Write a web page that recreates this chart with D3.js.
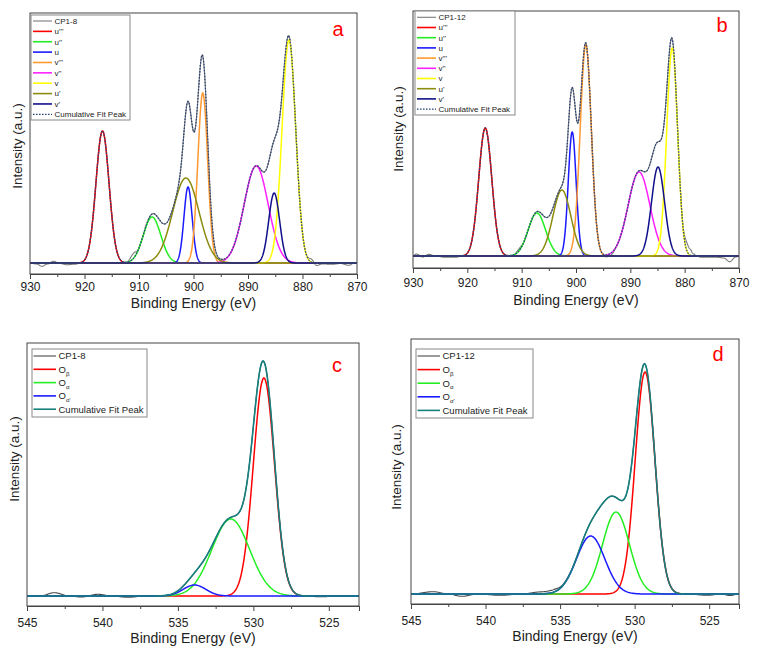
<!DOCTYPE html>
<html><head><meta charset="utf-8">
<script src="https://cdn.jsdelivr.net/npm/d3@7"></script>
<style>
body{margin:0;background:#fff}
text{font-family:Arial,"Liberation Sans",sans-serif}
</style>
</head><body>
<svg id="chart" width="757" height="651"></svg>
<script>
// ================= DATA =================
const ceTicks = [930, 920, 910, 900, 890, 880, 870];
const ceMinorTicks = [925, 915, 905, 895, 885, 875];
const oTicks = [545, 540, 535, 530, 525];
const oMinorTicks = [542.5, 537.5, 532.5, 527.5];

const ceNames = ["u'''", "u''", "u", "v'''", "v''", "v", "u'", "v'"];
const oNames = ["β", "α", "α'"];   // subscripts of O

// Panel a : CP1-8, Ce 3d (peak centre eV, height a.u., sigma eV)
const aCenter = [916.7, 907.6, 901.0, 898.3, 888.5, 882.5, 901.4, 885.2];
const aHeight = [132, 46, 76, 170, 97, 223, 85, 70];
const aSigma  = [1.2, 1.6, 0.75, 0.9, 2.2, 1.25, 2.4, 1.0];
const aResidE = [930, 928.8, 927.8, 926.8, 925.7, 924.5, 923.2, 921.8, 920.5, 912.3, 911.0, 910.0, 879.5, 878.4, 877.4, 876.4, 874.5, 873.0, 871.5, 870.5, 870];
const aResidV = [0, -1, -3.3, -1, 1.7, -0.5, -1.7, -1.2, 0, 0, 5, 0, 0, 3, -2.5, -1, -1.2, -0.5, -2.3, 0, 0];

// Panel b : CP1-12, Ce 3d
const bCenter = [916.7, 907.2, 900.7, 898.2, 888.4, 882.3, 902.6, 884.9];
const bHeight = [128, 43, 124, 211, 84, 208, 66, 89];
const bSigma  = [1.2, 1.6, 0.72, 1.02, 2.0, 1.0, 1.65, 1.2];
const bResidE = [930, 929.4, 928.2, 927.1, 925.9, 924.0, 922.3, 920.8, 913.5, 911.9, 910.4, 909.5, 895.2, 894.4, 893.4, 892.5, 880.6, 879.6, 879.0, 878.4, 877.8, 876.9, 874.0, 872.8, 871.7, 870.6, 870];
const bResidV = [0, 2, -1, 1.7, 0, -1.3, -1.3, 0, 0, -1, 2, 0, 0, -2, -2, 0, 0, 8, 6, 2, 0, -1.3, -1.3, -2, -5.7, -1, 0];

// Panel c : CP1-8, O 1s
const cCenter = [529.3, 531.5, 533.9];
const cHeight = [218, 77, 11];
const cSigma  = [0.7, 1.25, 0.75];
const cResidE = [545, 544, 543.2, 542.2, 541.4, 540.3, 539.4, 538.3, 537.2, 527, 525.5, 524.2, 523];
const cResidV = [0, 0.5, 3.3, 0, -1, 1.7, 0, -1.3, 0, 0, -0.7, 0, 0];

// Panel d : CP1-12, O 1s
const dCenter = [529.3, 531.25, 532.95];
const dHeight = [222, 82, 58];
const dSigma  = [0.66, 0.9, 0.95];
const dResidE = [545, 543.5, 542.5, 541.6, 540.5, 539.0, 537.6, 536.3, 535.4, 534.8, 534.0, 526.5, 525.1, 524.2, 523.6, 523];
const dResidV = [0, 2.3, 0, -2.3, 0, -1.3, 0, 2, 2.5, 1, 0, 0, -1.3, 0, -1.5, 0];

// ================= STYLE / LAYOUT =================
const ceColors = ["#ff0000", "#22ee22", "#1a1aff", "#ff9a30", "#ff20ff", "#ffff00", "#8c8c10", "#10108a"];
const oColors = ["#ff0000", "#22ee22", "#1a1aff"];

const panels = [
  {sample: "CP1-8", letter: "a", names: ceNames, colors: ceColors, kind: "ce",
   center: aCenter, height: aHeight, sigma: aSigma, rE: aResidE, rV: aResidV,
   xDom: [930, 870], yDom: [-11, 250], left: 30, right: 357, top: 13, bottom: 274,
   ticks: ceTicks, minor: ceMinorTicks, pad: 3,
   letterX: 338, letterY: 36, xtitleY: 308, ytitleX: 22, ytitleY: 146,
   leg: {x: 31, y: 15, w: 99, h: 105, row0: 21, step: 10.37, lx0: 33, lx1: 52, tx: 54.5, fs: 8}},
  {sample: "CP1-12", letter: "b", names: ceNames, colors: ceColors, kind: "ce",
   center: bCenter, height: bHeight, sigma: bSigma, rE: bResidE, rV: bResidV,
   xDom: [930, 870], yDom: [-12, 245], left: 413, right: 739, top: 11, bottom: 268,
   ticks: ceTicks, minor: ceMinorTicks, pad: 5,
   letterX: 722, letterY: 32, xtitleY: 305, ytitleX: 403, ytitleY: 129,
   leg: {x: 415, y: 11, w: 100, h: 104, row0: 17.3, step: 10.2, lx0: 417, lx1: 436, tx: 438.5, fs: 8}},
  {sample: "CP1-8", letter: "c", names: oNames, colors: oColors, kind: "o",
   center: cCenter, height: cHeight, sigma: cSigma, rE: cResidE, rV: cResidV,
   xDom: [545, 523], yDom: [-10, 253], left: 27, right: 359, top: 343, bottom: 606,
   ticks: oTicks, minor: oMinorTicks, pad: 7,
   letterX: 337, letterY: 372, xtitleY: 643, ytitleX: 19, ytitleY: 459,
   leg: {x: 32, y: 349, w: 115, h: 68, row0: 356, step: 13.3, lx0: 33.5, lx1: 56, tx: 58.5, fs: 9.5}},
  {sample: "CP1-12", letter: "d", names: oNames, colors: oColors, kind: "o",
   center: dCenter, height: dHeight, sigma: dSigma, rE: dResidE, rV: dResidV,
   xDom: [545, 523], yDom: [-10, 255], left: 411, right: 739, top: 339, bottom: 604,
   ticks: oTicks, minor: oMinorTicks, pad: 7,
   letterX: 718, letterY: 361, xtitleY: 641, ytitleX: 401, ytitleY: 467,
   leg: {x: 416, y: 349, w: 117, h: 69, row0: 356, step: 13.6, lx0: 417.5, lx1: 440, tx: 442.5, fs: 9.5}}
];

const svg = d3.select("#chart");

function gauss(E, c, h, s) { return h * Math.exp(-((E - c) * (E - c)) / (2 * s * s)); }

panels.forEach((p, pi) => {
  const g = svg.append("g");
  const x = d3.scaleLinear().domain(p.xDom).range([p.left, p.right]);
  const y = d3.scaleLinear().domain(p.yDom).range([p.bottom, p.top]);
  const lo = d3.min(p.xDom), hi = d3.max(p.xDom);
  const grid = d3.range(lo, hi + 1e-9, 0.05);
  const comps = p.center.map((c, i) => grid.map(E => [E, gauss(E, c, p.height[i], p.sigma[i])]));
  const fit = grid.map((E, k) => [E, d3.sum(comps, cp => cp[k][1])]);
  const resid = d3.scaleLinear().domain(p.rE).range(p.rV).clamp(true)
    .interpolate((a, b) => t => a + (b - a) * (1 - Math.cos(Math.PI * t)) / 2);
  const raw = fit.map(([E, v]) => [E, v + resid(E)]);
  const line = d3.line().x(d => x(d[0])).y(d => y(d[1]));

  const clipId = "clip" + pi;
  svg.append("clipPath").attr("id", clipId).append("rect")
    .attr("x", p.left).attr("y", p.top).attr("width", p.right - p.left).attr("height", p.bottom - p.top);
  const plot = g.append("g").attr("clip-path", `url(#${clipId})`);

  const rawColor = p.kind === "ce" ? "#7a7a7a" : "#4a4a4a";
  plot.append("path").datum(raw).attr("d", line).attr("fill", "none")
    .attr("stroke", rawColor).attr("stroke-width", 1.1);
  comps.forEach((cp, i) => {
    plot.append("path").datum(cp).attr("d", line).attr("fill", "none")
      .attr("stroke", p.colors[i]).attr("stroke-width", 1.5);
  });
  if (p.kind === "ce") {
    plot.append("path").datum(fit).attr("d", line).attr("fill", "none")
      .attr("stroke", "#2c4577").attr("stroke-width", 1.3).attr("stroke-dasharray", "1.6,1.4");
  } else {
    plot.append("path").datum(fit).attr("d", line).attr("fill", "none")
      .attr("stroke", "#16807f").attr("stroke-width", 1.6);
  }

  // frame
  g.append("rect").attr("x", p.left).attr("y", p.top)
    .attr("width", p.right - p.left).attr("height", p.bottom - p.top)
    .attr("fill", "none").attr("stroke", "#444").attr("stroke-width", 1);

  // axes
  const minorAxis = d3.axisBottom(x).tickValues(p.minor).tickSize(3).tickFormat("");
  const majorAxis = d3.axisBottom(x).tickValues(p.ticks).tickSize(5).tickPadding(p.pad).tickFormat(d3.format("d"));
  const gm = g.append("g").attr("transform", `translate(0,${p.bottom})`).call(minorAxis);
  const gM = g.append("g").attr("transform", `translate(0,${p.bottom})`).call(majorAxis);
  [gm, gM].forEach(a => {
    a.select(".domain").attr("stroke", "#444");
    a.selectAll(".tick line").attr("stroke", "#444");
  });
  gM.selectAll(".tick text").attr("font-size", 12).attr("fill", "#222")
    .style("font-family", "Arial, 'Liberation Sans', sans-serif");

  // titles
  g.append("text").attr("x", (p.left + p.right) / 2).attr("y", p.xtitleY)
    .attr("text-anchor", "middle").attr("font-size", 14).attr("fill", "#222")
    .text("Binding Energy (eV)");
  g.append("text").attr("transform", `translate(${p.ytitleX},${p.ytitleY}) rotate(-90)`)
    .attr("text-anchor", "middle").attr("font-size", 13.5).attr("fill", "#222")
    .text("Intensity (a.u.)");
  g.append("text").attr("x", p.letterX).attr("y", p.letterY).attr("text-anchor", "middle")
    .attr("font-size", 20).attr("fill", "#ff0000").text(p.letter);

  // legend
  const L = p.leg;
  const lg = g.append("g");
  lg.append("rect").attr("x", L.x).attr("y", L.y).attr("width", L.w).attr("height", L.h)
    .attr("fill", "#fff").attr("stroke", "#888").attr("stroke-width", 1);
  const entries = [{label: p.sample, color: rawColor, type: "raw"}]
    .concat(p.names.map((n, i) => ({label: n, color: p.colors[i], type: "comp"})))
    .concat([{label: "Cumulative Fit Peak", color: p.kind === "ce" ? "#2c4577" : "#16807f", type: "fit"}]);
  entries.forEach((e, i) => {
    const yy = L.row0 + i * L.step;
    const ln = lg.append("line").attr("x1", L.lx0).attr("x2", L.lx1).attr("y1", yy).attr("y2", yy)
      .attr("stroke", e.color).attr("stroke-width", e.type === "raw" ? 1.1 : 1.6);
    if (e.type === "fit" && p.kind === "ce") ln.attr("stroke-dasharray", "1.6,1.4").attr("stroke-width", 1.2);
    const t = lg.append("text").attr("x", L.tx).attr("y", yy + L.fs * 0.36)
      .attr("font-size", L.fs).attr("fill", "#222");
    if (e.type === "comp" && p.kind === "o") {
      t.append("tspan").text("O");
      t.append("tspan").attr("font-size", L.fs * 0.65).attr("dy", L.fs * 0.3).text(e.label);
    } else {
      t.text(e.label);
    }
  });
});
</script>
</body></html>
